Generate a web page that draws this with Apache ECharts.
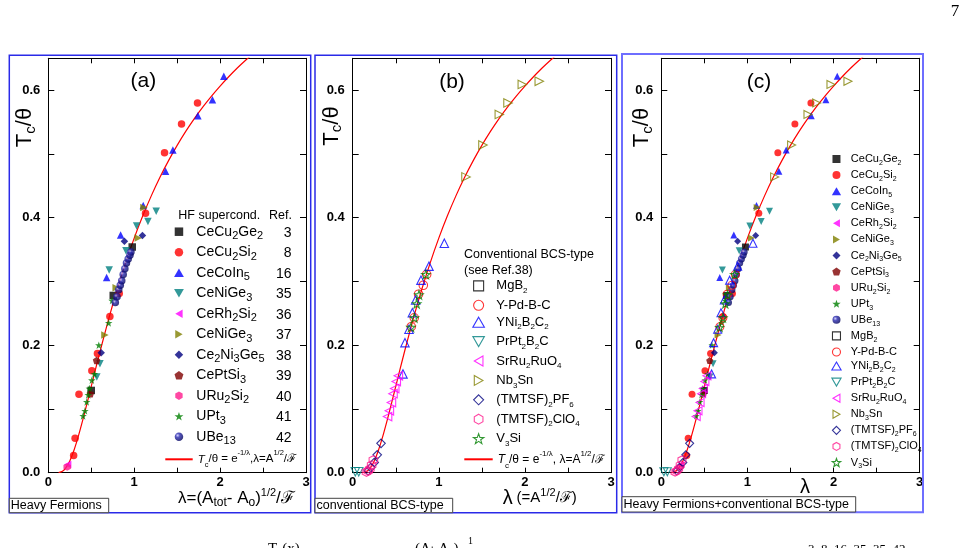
<!DOCTYPE html>
<html>
<head>
<meta charset="utf-8">
<title>Tc/theta versus lambda</title>
<script src="https://cdn.jsdelivr.net/npm/echarts@6.0.0/dist/echarts.min.js"></script>
<style>
html, body { margin: 0; padding: 0; background: #fff; }
#chart { width: 979px; height: 548px; }
</style>
</head>
<body>
<div id="chart"></div>
<script>
var FONT = '"Liberation Sans", Arial, sans-serif'
var SERIF = '"Liberation Serif", "DejaVu Serif", serif'

// heavy fermion data, [lambda, Tc/theta]
var ceCu2Ge2 = [[0.977, 0.354], [0.756, 0.278], [0.5, 0.129]]
var ceCu2Si2 = [[0.295, 0.027], [0.312, 0.054], [0.357, 0.123], [0.507, 0.16], [0.572, 0.187], [0.717, 0.245], [0.826, 0.281], [1.132, 0.407], [1.353, 0.502], [1.551, 0.547], [1.737, 0.58]]
var ceCoIn5 = [[2.043, 0.622], [1.911, 0.585], [1.741, 0.56], [1.45, 0.506], [1.365, 0.473], [1.105, 0.419], [0.842, 0.373], [0.679, 0.306]]
var ceNiGe3a = [[1.256, 0.41], [1.16, 0.394], [1.028, 0.387], [0.904, 0.348], [0.709, 0.318], [0.601, 0.171], [0.565, 0.15]]
var ceRh2Si2 = [[0.225, 0.013]]
var ceNiGe3b = [[1.113, 0.416], [1.047, 0.368], [0.659, 0.216], [0.79, 0.29]]
var ce2Ni3Ge5 = [[1.096, 0.372], [0.886, 0.363], [0.616, 0.188]]
var cePtSi3 = [[0.562, 0.176], [0.49, 0.124]]
var uRu2Si2 = [[0.22, 0.009]]
var uPt3 = [[0.405, 0.089], [0.427, 0.097], [0.447, 0.111], [0.465, 0.122], [0.478, 0.132], [0.507, 0.145], [0.537, 0.155], [0.588, 0.2], [0.703, 0.235], [0.742, 0.27]]
var uBe13 = [[0.78, 0.267], [0.8, 0.276], [0.82, 0.287], [0.838, 0.294], [0.855, 0.301], [0.872, 0.311], [0.891, 0.32], [0.91, 0.329], [0.93, 0.335], [0.95, 0.341], [0.962, 0.346]]
var hfRefs = [3, 8, 16, 35, 36, 37, 38, 39, 40, 41, 42]

// conventional BCS data
var mgB2 = []
var yPdBC = [[0.859, 0.311], [0.82, 0.294], [0.765, 0.28], [0.715, 0.243], [0.68, 0.229]]
var yNi2B2C2 = [[1.064, 0.36], [0.886, 0.324], [0.793, 0.302], [0.731, 0.271], [0.693, 0.251], [0.654, 0.225], [0.607, 0.204], [0.584, 0.155]]
var prPt2B2C = [[0.03, 0.0015], [0.07, 0.0015]]
var srRu2RuO4 = [[0.405, 0.088], [0.426, 0.097], [0.45, 0.11], [0.468, 0.124], [0.488, 0.132], [0.506, 0.143], [0.53, 0.152]]
var nb3Sn = [[2.167, 0.614], [1.97, 0.609], [1.804, 0.58], [1.703, 0.562], [1.513, 0.514], [1.316, 0.464]]
var tmtsfPF6 = [[0.329, 0.046], [0.285, 0.028], [0.25, 0.016], [0.21, 0.008], [0.18, 0.003]]
var tmtsfClO4 = [[0.24, 0.02], [0.22, 0.012], [0.2, 0.006], [0.18, 0.003], [0.16, 0.001]]
var v3Si = [[0.85, 0.311], [0.77, 0.279], [0.743, 0.265], [0.716, 0.243], [0.677, 0.228]]

// red curve Tc/theta = exp(-1/lambda)
var fitLambda = [0.12, 0.15, 0.18, 0.2, 0.25, 0.3, 0.35, 0.4, 0.45, 0.5, 0.55, 0.6, 0.7, 0.8, 0.9, 1.0, 1.1, 1.2, 1.3, 1.4, 1.5, 1.6, 1.7, 1.8, 1.9, 2.0, 2.1, 2.2, 2.3, 2.4]
var fitTc = [0.0002, 0.0013, 0.0039, 0.0067, 0.0183, 0.0357, 0.0574, 0.0821, 0.1084, 0.1353, 0.1623, 0.1889, 0.2397, 0.2865, 0.3292, 0.3679, 0.4029, 0.4346, 0.4634, 0.4895, 0.5134, 0.5353, 0.5554, 0.5738, 0.5908, 0.6065, 0.6211, 0.6348, 0.6474, 0.6592]

var xTicks = ['0', '1', '2', '3']
var yTicks = ['0.0', '0.2', '0.4', '0.6']

// symbols as paths so legend icons keep their aspect
var SQUARE = 'path://M0,0L10,0L10,10L0,10Z'
var DIAMOND = 'path://M5,0L10,5L5,10L0,5Z'
var TRI_UP = 'path://M10,0L20,17.32L0,17.32Z'
var TRI_DOWN = 'path://M0,0L20,0L10,17.32Z'
var TRI_LEFT = 'path://M0,10L17.32,0L17.32,20Z'
var TRI_RIGHT = 'path://M0,0L17.32,10L0,20Z'
var PENTAGON = 'path://M10,0L19.51,6.91L15.88,18.09L4.12,18.09L0.49,6.91Z'
var HEXAGON = 'path://M10,0L18.66,5L18.66,15L10,20L1.34,15L1.34,5Z'
var STAR = 'path://M10,0L12.35,6.76L19.51,6.91L13.8,11.24L15.88,18.09L10,14L4.12,18.09L6.2,11.24L0.49,6.91L7.65,6.76Z'

var UBE_FILL = new echarts.graphic.RadialGradient(0.35, 0.35, 0.7, [
  { offset: 0, color: '#c8c8ff' },
  { offset: 0.35, color: '#2a2ab0' },
  { offset: 1, color: '#00005a' }
])

var hfSpecs = [
  { key: 'CeCu2Ge2', label: 'CeCu_{2}Ge_{2}', symbol: SQUARE, color: '#000000', data: ceCu2Ge2 },
  { key: 'CeCu2Si2', label: 'CeCu_{2}Si_{2}', symbol: 'circle', color: '#ff0000', data: ceCu2Si2 },
  { key: 'CeCoIn5', label: 'CeCoIn_{5}', symbol: TRI_UP, color: '#0000ff', data: ceCoIn5 },
  { key: 'CeNiGe3-35', label: 'CeNiGe_{3}', symbol: TRI_DOWN, color: '#008080', data: ceNiGe3a },
  { key: 'CeRh2Si2', label: 'CeRh_{2}Si_{2}', symbol: TRI_LEFT, color: '#ff00ff', data: ceRh2Si2 },
  { key: 'CeNiGe3-37', label: 'CeNiGe_{3}', symbol: TRI_RIGHT, color: '#808000', data: ceNiGe3b },
  { key: 'Ce2Ni3Ge5', label: 'Ce_{2}Ni_{3}Ge_{5}', symbol: DIAMOND, color: '#000080', data: ce2Ni3Ge5 },
  { key: 'CePtSi3', label: 'CePtSi_{3}', symbol: PENTAGON, color: '#800000', data: cePtSi3 },
  { key: 'URu2Si2', label: 'URu_{2}Si_{2}', symbol: HEXAGON, color: '#ff1a8c', data: uRu2Si2 },
  { key: 'UPt3', label: 'UPt_{3}', symbol: STAR, color: '#008000', data: uPt3 },
  { key: 'UBe13', label: 'UBe_{13}', symbol: 'circle', color: UBE_FILL, data: uBe13 }
]

var bcsSpecs = [
  { key: 'MgB2', label: 'MgB_{2}', symbol: SQUARE, color: '#000000', data: mgB2 },
  { key: 'Y-Pd-B-C', label: 'Y-Pd-B-C', symbol: 'circle', color: '#ff0000', data: yPdBC },
  { key: 'YNi2B2C2', label: 'YNi_{2}B_{2}C_{2}', symbol: TRI_UP, color: '#0000ff', data: yNi2B2C2 },
  { key: 'PrPt2B2C', label: 'PrPt_{2}B_{2}C', symbol: TRI_DOWN, color: '#008080', data: prPt2B2C },
  { key: 'SrRu2RuO4', label: 'SrRu_{2}RuO_{4}', symbol: TRI_LEFT, color: '#ff00ff', data: srRu2RuO4 },
  { key: 'Nb3Sn', label: 'Nb_{3}Sn', symbol: TRI_RIGHT, color: '#808000', data: nb3Sn },
  { key: '(TMTSF)2PF6', label: '(TMTSF)_{2}PF_{6}', symbol: DIAMOND, color: '#000080', data: tmtsfPF6 },
  { key: '(TMTSF)2ClO4', label: '(TMTSF)_{2}ClO_{4}', symbol: HEXAGON, color: '#ff1a8c', data: tmtsfClO4 },
  { key: 'V3Si', label: 'V_{3}Si', symbol: STAR, color: '#008000', data: v3Si }
]

var labelOf = {}
hfSpecs.concat(bcsSpecs).forEach(function (s) { labelOf[s.key] = s.label })

// 'CeCu_{2}Ge_{2}' -> rich text with subscripts
function toRich(label) {
  return label.split(/(_\{[^}]*\}|\^\{[^}]*\})/).filter(function (p) { return p !== '' }).map(function (p) {
    if (p.indexOf('_{') === 0) return '{s|' + p.slice(2, -1) + '}'
    if (p.indexOf('^{') === 0) return '{p|' + p.slice(2, -1) + '}'
    return '{n|' + p + '}'
  }).join('')
}

function richSet(main, sub, lh) {
  return {
    n: { fontFamily: FONT, fontSize: main, lineHeight: lh, color: '#000' },
    i: { fontFamily: FONT, fontSize: main, lineHeight: lh, color: '#000', fontStyle: 'italic' },
    s: { fontFamily: FONT, fontSize: sub, lineHeight: sub, verticalAlign: 'bottom', color: '#000' },
    p: { fontFamily: FONT, fontSize: sub, lineHeight: sub, verticalAlign: 'top', color: '#000' }
  }
}

var grids = [
  { left: 48.3, top: 58.3, width: 257.7, height: 414.4 },
  { left: 352.7, top: 58.3, width: 258.3, height: 414.4 },
  { left: 661.3, top: 58.3, width: 258.4, height: 414.4 }
]

function xAxisOf(panel, top) {
  return {
    type: 'value', gridIndex: panel, position: top ? 'top' : 'bottom',
    min: 0, max: 3, interval: 0.5,
    axisLine: { show: true, onZero: false, lineStyle: { color: '#000', width: 1 } },
    axisTick: { show: true, inside: true, length: 5, lineStyle: { color: '#000' } },
    axisLabel: {
      show: !top, margin: 3, color: '#000', fontFamily: FONT, fontWeight: 'bold', fontSize: 13,
      formatter: function (v) { return v % 1 === 0 ? xTicks[v] : '' }
    },
    splitLine: { show: false }
  }
}

function yAxisOf(panel, right) {
  return {
    type: 'value', gridIndex: panel, position: right ? 'right' : 'left',
    min: 0, max: 0.65, interval: 0.1,
    axisLine: { show: true, onZero: false, lineStyle: { color: '#000', width: 1 } },
    axisTick: { show: true, inside: true, length: 6, lineStyle: { color: '#000' } },
    axisLabel: {
      show: !right, margin: 8, color: '#000', fontFamily: FONT, fontWeight: 'bold', fontSize: 13,
      formatter: function (v) {
        var k = Math.round(v * 10)
        if (Math.abs(v * 10 - k) > 1e-6 || k % 2) return ''
        return yTicks[k / 2]
      }
    },
    splitLine: { show: false }
  }
}

function scatterOf(spec, panel, size, hollow) {
  return {
    type: 'scatter', name: spec.key, xAxisIndex: panel * 2, yAxisIndex: panel * 2,
    data: spec.data, symbol: spec.symbol, symbolSize: size,
    itemStyle: hollow
      ? { color: 'rgba(0,0,0,0)', borderColor: spec.color, borderWidth: 1.1 }
      : { color: spec.color, borderWidth: 0 },
    emphasis: { disabled: true }, z: 3
  }
}

function fitOf(panel, name) {
  return {
    type: 'line', name: name, xAxisIndex: panel * 2, yAxisIndex: panel * 2,
    data: fitLambda.map(function (l, i) { return [l, fitTc[i]] }),
    symbol: 'none', showSymbol: false, smooth: 0.3, silent: true,
    lineStyle: { color: '#ff0000', width: 1.2 }, itemStyle: { color: '#ff0000' }, z: 2
  }
}

var series = [fitOf(0, 'fitA'), fitOf(1, 'fitB'), fitOf(2, 'fitC')]
hfSpecs.forEach(function (s) { series.push(scatterOf(s, 0, 7.5, false)) })
bcsSpecs.forEach(function (s) { series.push(scatterOf(s, 1, 8.5, true)) })
hfSpecs.forEach(function (s) { series.push(scatterOf(s, 2, 7, false)) })
bcsSpecs.forEach(function (s) { series.push(scatterOf(s, 2, 8, true)) })

var fitText = function (sep) {
  return '{i|T}{s|c}{n|/θ = e}{p|-1/λ}{n|' + sep + 'λ=A}{p|1/2}{n|/ℱ}'
}
// legend line only, no marker in the middle
var noMarker = { color: 'rgba(0,0,0,0)', borderWidth: 0, opacity: 0 }

var legends = [
  {
    orient: 'vertical', left: 174.05, top: 224.7, padding: 0, itemGap: 3.5,
    itemWidth: 24.8, itemHeight: 8.5, selectedMode: false,
    data: hfSpecs.map(function (s) { return s.key }),
    formatter: function (name) { return toRich(labelOf[name]) },
    textStyle: { color: '#000', rich: richSet(14, 11, 20) }
  },
  {
    orient: 'horizontal', left: 164.3, top: 449.3, padding: 0,
    itemWidth: 27.4, itemHeight: 1, selectedMode: false,
    data: [{ name: 'fitA', itemStyle: noMarker }],
    formatter: function () { return fitText(',') },
    textStyle: { color: '#000', rich: richSet(11.5, 7.5, 20) }
  },
  {
    orient: 'vertical', left: 472.3, top: 279.4, padding: 0, itemGap: 3.9,
    itemWidth: 25.4, itemHeight: 10, selectedMode: false,
    itemStyle: { borderWidth: 1.1 },
    data: bcsSpecs.map(function (s) { return s.key }),
    formatter: function (name) { return toRich(labelOf[name]) },
    textStyle: { color: '#000', rich: richSet(13, 8, 18) }
  },
  {
    orient: 'horizontal', left: 463.3, top: 449.3, padding: 0,
    itemWidth: 28.4, itemHeight: 1, selectedMode: false,
    data: [{ name: 'fitB', itemStyle: noMarker }],
    formatter: function () { return fitText(', ') },
    textStyle: { color: '#000', rich: richSet(12, 8, 20) }
  },
  {
    orient: 'vertical', left: 831.3, top: 153.5, padding: 0, itemGap: 3.08,
    itemWidth: 18.8, itemHeight: 8, selectedMode: false,
    data: hfSpecs.map(function (s) { return { name: s.key, itemStyle: { borderWidth: 0 } } })
      .concat(bcsSpecs.map(function (s) { return { name: s.key, itemStyle: { borderWidth: 1.1 } } })),
    formatter: function (name) { return toRich(labelOf[name]) },
    textStyle: { color: '#000', rich: richSet(11, 7, 15) }
  }
]

function textEl(x, y, text, opts) {
  var style = Object.assign({ text: text, x: 0, y: 0, fill: '#000', fontFamily: FONT, fontSize: 14, align: 'left', verticalAlign: 'middle' }, opts.style || {})
  return { type: 'text', x: x, y: y, rotation: opts.rotation || 0, z: 10, silent: true, style: style }
}

var yTitleRich = {
  b: { fontFamily: FONT, fontSize: 22, lineHeight: 26, fill: '#000' },
  s: { fontFamily: FONT, fontSize: 15, lineHeight: 15, verticalAlign: 'bottom', fill: '#000' }
}
var xTitleRich = {
  n: { fontFamily: FONT, fontSize: 17, lineHeight: 22, fill: '#000' },
  m: { fontFamily: FONT, fontSize: 15, lineHeight: 22, fill: '#000' },
  l: { fontFamily: FONT, fontSize: 20, lineHeight: 22, fill: '#000' },
  s: { fontFamily: FONT, fontSize: 12, lineHeight: 12, verticalAlign: 'bottom', fill: '#000' },
  p: { fontFamily: FONT, fontSize: 11, lineHeight: 11, verticalAlign: 'top', fill: '#000' }
}

var frames = [
  { x: 9.3, y: 55.3, w: 301.4, h: 457.4, c: '#2a2ae8', lw: 1.5 },
  { x: 315, y: 55.3, w: 301.7, h: 457.4, c: '#2a2ae8', lw: 1.5 },
  { x: 622, y: 54, w: 301, h: 458.3, c: '#6e6eff', lw: 2 }
]
var tags = [
  { x: 9.3, y: 498.3, w: 99.4, h: 14.4, t: 'Heavy Fermions' },
  { x: 315, y: 498.3, w: 137.7, h: 14.4, t: 'conventional BCS-type' },
  { x: 622, y: 496.7, w: 233.7, h: 15.3, t: 'Heavy Fermions+conventional BCS-type' }
]

var graphics = []
frames.forEach(function (f) {
  graphics.push({ type: 'rect', z: 1, silent: true, shape: { x: f.x, y: f.y, width: f.w, height: f.h }, style: { fill: 'none', stroke: f.c, lineWidth: f.lw } })
})
tags.forEach(function (t) {
  graphics.push({ type: 'rect', z: 9, silent: true, shape: { x: t.x, y: t.y, width: t.w, height: t.h }, style: { fill: '#fff', stroke: '#444', lineWidth: 1 } })
  graphics.push(textEl(t.x + 1.5, t.y + t.h / 2 + 0.5, t.t, { style: { fontSize: 12.5 } }))
})

// panel letters
graphics.push(textEl(143.3, 81.7, '(a)', { style: { fontSize: 21, align: 'center' } }))
graphics.push(textEl(452, 82, '(b)', { style: { fontSize: 21, align: 'center' } }))
graphics.push(textEl(759, 82, '(c)', { style: { fontSize: 21, align: 'center' } }))

// y titles
;[[25, 127.5], [331.5, 126], [642, 127.5]].forEach(function (p) {
  graphics.push(textEl(p[0], p[1], '{b|T}{s|c}{b|/θ}', { rotation: Math.PI / 2, style: { align: 'center', rich: yTitleRich } }))
})

// x titles
graphics.push(textEl(178, 498, '{n|λ=(A}{s|tot}{n|- A}{s|o}{n|)}{p|1/2}{n|/ℱ}', { style: { rich: xTitleRich } }))
graphics.push(textEl(502.7, 498, '{l|λ} {m|(=A}{p|1/2}{m|/ℱ)}', { style: { rich: xTitleRich } }))
graphics.push(textEl(805, 487, '{l|λ}', { style: { align: 'center', rich: xTitleRich } }))

// legend headers and refs
graphics.push(textEl(178.3, 216, 'HF supercond.', { style: { fontSize: 12.5 } }))
graphics.push(textEl(292, 216, 'Ref.', { style: { fontSize: 12.5, align: 'right' } }))
graphics.push(textEl(291.5, 222.5, hfRefs.join('\n'), { style: { fontSize: 14, align: 'right', verticalAlign: 'top', lineHeight: 20.5 } }))
graphics.push(textEl(464, 255, 'Conventional BCS-type', { style: { fontSize: 12.5 } }))
graphics.push(textEl(464, 270.7, '(see Ref.38)', { style: { fontSize: 12.5 } }))

// page furniture
graphics.push(textEl(955, 12, '7', { style: { fontFamily: SERIF, fontSize: 17, align: 'center' } }))
graphics.push(textEl(268, 542, 'T꜀(x)', { style: { fontFamily: SERIF, fontSize: 15, verticalAlign: 'top' } }))
graphics.push(textEl(415, 542, '(Aₜ Aₒ)', { style: { fontFamily: SERIF, fontSize: 15, verticalAlign: 'top' } }))
graphics.push(textEl(468, 536, '1', { style: { fontFamily: SERIF, fontSize: 10, verticalAlign: 'top' } }))
graphics.push(textEl(808, 543, '3, 8, 16, 35, 35, 42', { style: { fontFamily: SERIF, fontSize: 13, verticalAlign: 'top' } }))

var myChart = echarts.init(document.getElementById('chart'))
myChart.setOption({
  backgroundColor: '#fff',
  animation: false,
  grid: grids,
  xAxis: [xAxisOf(0, false), xAxisOf(0, true), xAxisOf(1, false), xAxisOf(1, true), xAxisOf(2, false), xAxisOf(2, true)],
  yAxis: [yAxisOf(0, false), yAxisOf(0, true), yAxisOf(1, false), yAxisOf(1, true), yAxisOf(2, false), yAxisOf(2, true)],
  legend: legends,
  series: series,
  graphic: graphics
})
</script>
</body>
</html>
